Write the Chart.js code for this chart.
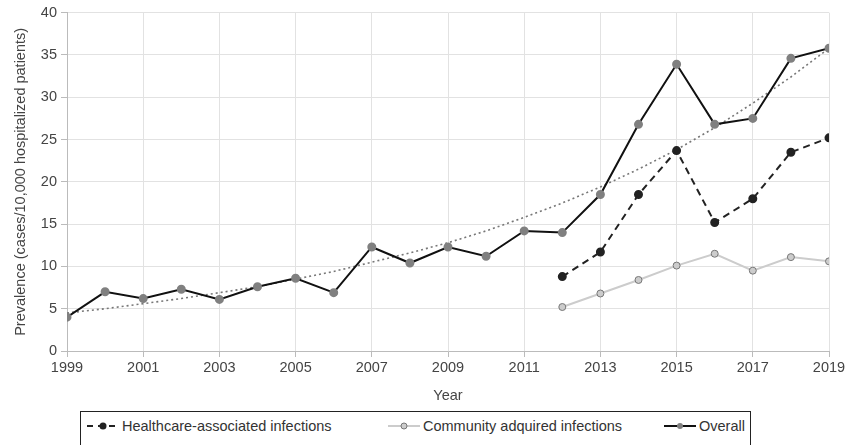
<!DOCTYPE html>
<html>
<head>
<meta charset="utf-8">
<script src="https://cdn.jsdelivr.net/npm/chart.js@4/dist/chart.umd.min.js"></script>
<style>
  body { margin: 0; background: #fff; font-family: "Liberation Sans", Arial, sans-serif; }
  #wrap { position: relative; width: 848px; height: 445px; overflow: hidden; }
  #chartBox { position: absolute; left: 0; top: 0; width: 848px; height: 405px; }
  #legend {
    position: absolute; left: 80px; top: 411px; width: 671px; height: 40px;
    border: 1px solid #222; box-sizing: border-box; color: #333; font-size: 14.5px;
  }
  .item { position: absolute; top: 5px; height: 18px; line-height: 18px; white-space: nowrap; }
  .mark { position: absolute; top: 0; width: 34px; height: 18px; }
  .txt { position: absolute; left: 36px; top: 0; }
</style>
</head>
<body>
<div id="wrap">
  <div id="chartBox"><canvas id="chart"></canvas></div>
  <div id="legend">
    <div class="item" style="left:5px">
      <svg class="mark" width="34" height="18"><line x1="1" y1="9" x2="33" y2="9" stroke="#222" stroke-width="2" stroke-dasharray="6,5"/><circle cx="17" cy="9" r="3.5" fill="#222"/></svg>
      <span class="txt">Healthcare-associated infections</span>
    </div>
    <div class="item" style="left:306px">
      <svg class="mark" width="34" height="18"><line x1="1" y1="9" x2="33" y2="9" stroke="#ccc" stroke-width="2"/><circle cx="17" cy="9" r="3" fill="#ccc" stroke="#777" stroke-width="1"/></svg>
      <span class="txt">Community adquired infections</span>
    </div>
    <div class="item" style="left:582px">
      <svg class="mark" width="34" height="18"><line x1="1" y1="9" x2="33" y2="9" stroke="#111" stroke-width="2"/><circle cx="17" cy="9" r="3" fill="#808080"/></svg>
      <span class="txt">Overall</span>
    </div>
  </div>
</div>
<script>
// Data
const years = [1999, 2000, 2001, 2002, 2003, 2004, 2005, 2006, 2007, 2008, 2009,
               2010, 2011, 2012, 2013, 2014, 2015, 2016, 2017, 2018, 2019];
const overall = [4.0, 7.0, 6.2, 7.3, 6.1, 7.6, 8.6, 6.9, 12.3, 10.4, 12.3,
                 11.2, 14.2, 14.0, 18.5, 26.8, 33.9, 26.8, 27.5, 34.6, 35.8];
const trend = [4.5, 5.0, 5.6, 6.2, 6.9, 7.6, 8.5, 9.4, 10.5, 11.6, 12.8,
               14.2, 15.8, 17.5, 19.4, 21.5, 23.8, 26.4, 29.3, 32.4, 35.8];
const lateYears = [2012, 2013, 2014, 2015, 2016, 2017, 2018, 2019];
const healthcare = [8.8, 11.7, 18.5, 23.7, 15.2, 18.0, 23.5, 25.2];
const community = [5.2, 6.8, 8.4, 10.1, 11.5, 9.5, 11.1, 10.6];

function pairs(xs, ys) {
    return xs.map((x, i) => ({ x: x, y: ys[i] }));
}

const tickFont = { family: '"Liberation Sans", Arial, sans-serif', size: 14.5 };

new Chart(document.getElementById('chart'), {
    type: 'line',
    data: {
        datasets: [
            {
                label: 'Trend',
                data: pairs(years, trend),
                borderColor: '#777',
                borderWidth: 1.6,
                borderDash: [2, 3],
                pointRadius: 0,
                order: 4
            },
            {
                label: 'Community adquired infections',
                data: pairs(lateYears, community),
                borderColor: '#cccccc',
                borderWidth: 2,
                pointRadius: 3.5,
                pointBackgroundColor: '#cccccc',
                pointBorderColor: '#777',
                pointBorderWidth: 1,
                order: 3
            },
            {
                label: 'Healthcare-associated infections',
                data: pairs(lateYears, healthcare),
                borderColor: '#222',
                borderWidth: 2,
                borderDash: [7, 5],
                pointRadius: 3.5,
                pointBackgroundColor: '#222',
                pointBorderColor: '#222',
                order: 2
            },
            {
                label: 'Overall',
                data: pairs(years, overall),
                borderColor: '#111',
                borderWidth: 2,
                pointRadius: 3.5,
                pointBackgroundColor: '#808080',
                pointBorderColor: '#808080',
                order: 1
            }
        ]
    },
    options: {
        responsive: true,
        maintainAspectRatio: false,
        animation: false,
        layout: { padding: { top: 8, right: 19, bottom: 0, left: 0 } },
        plugins: {
            legend: { display: false },
            tooltip: { enabled: false }
        },
        scales: {
            x: {
                type: 'linear',
                min: 1999,
                max: 2019,
                afterFit: s => { s.height = 54; },
                ticks: {
                    stepSize: 2,
                    color: '#444',
                    font: tickFont,
                    padding: 2,
                    callback: v => String(v)
                },
                grid: { color: '#e2e2e2', tickLength: 6, tickColor: '#bbb' },
                border: { color: '#bbb' },
                title: { display: true, text: 'Year', color: '#444', font: tickFont, padding: { top: 4, bottom: 0 } }
            },
            y: {
                min: 0,
                max: 40,
                afterFit: s => { s.width = 67; },
                ticks: { stepSize: 5, color: '#444', font: tickFont, padding: 4 },
                grid: { color: '#e2e2e2', tickLength: 6, tickColor: '#bbb' },
                border: { color: '#bbb' },
                title: {
                    display: true,
                    text: 'Prevalence (cases/10,000 hospitalized patients)',
                    color: '#444',
                    font: tickFont,
                    padding: { top: 12, bottom: 0 }
                }
            }
        }
    }
});
</script>
</body>
</html>
